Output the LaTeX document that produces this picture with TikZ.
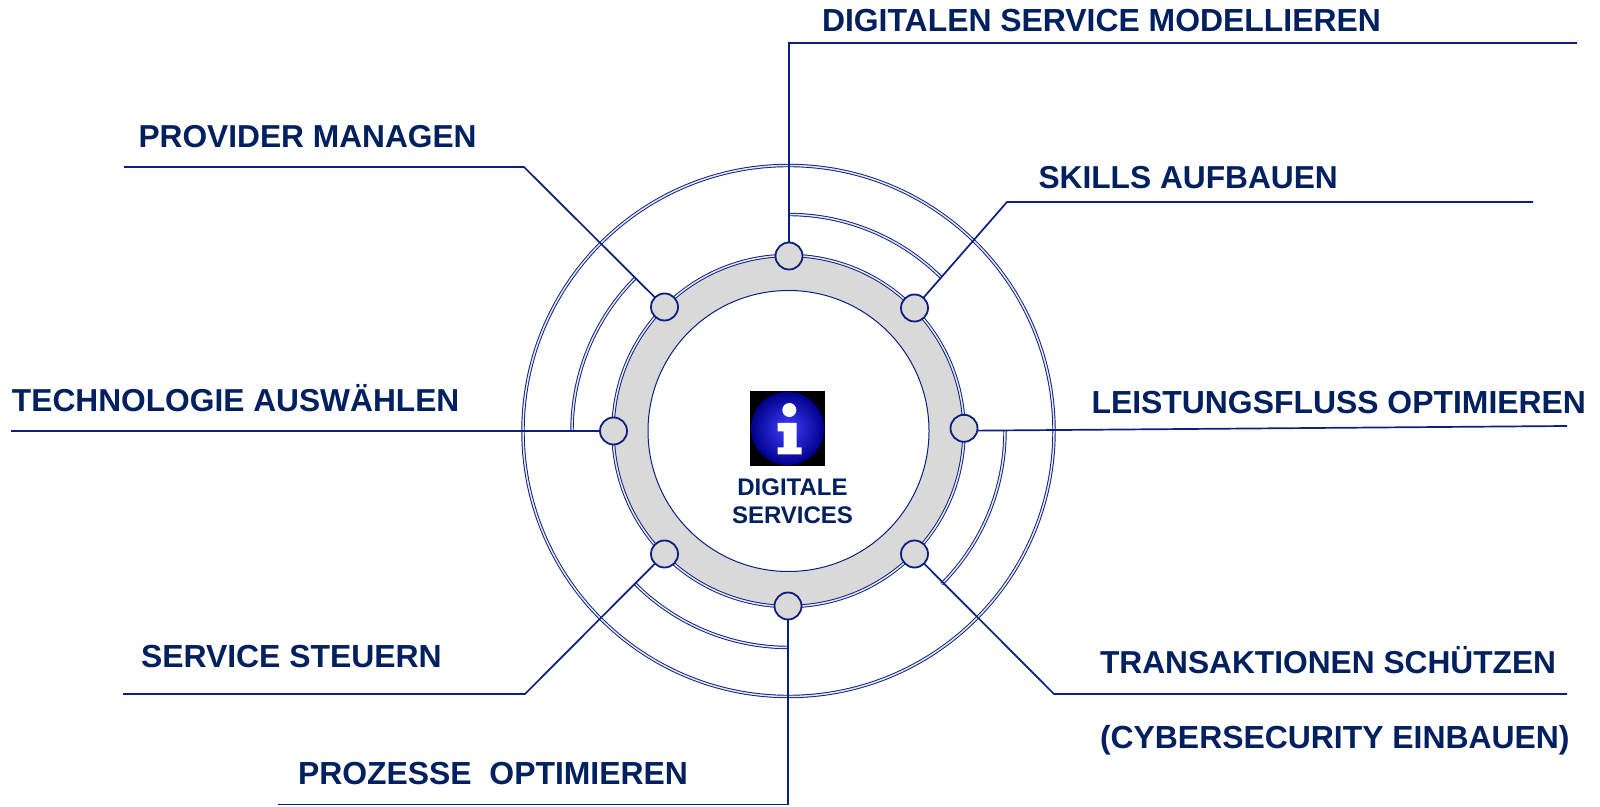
\documentclass[tikz,border=0pt]{standalone}
\usepackage{fontspec}
\setmainfont{Liberation Sans}
\definecolor{navy}{HTML}{002060}
\definecolor{linec}{HTML}{0B1F80}
\definecolor{ringc}{HTML}{D9D9D9}
\definecolor{dblc}{HTML}{E4E6F0}
\tikzset{
  lab/.style={anchor=base west,inner sep=0pt,outer sep=0pt,text=navy,font=\fontsize{31.7}{31.7}\selectfont\bfseries},
  labw/.style={lab,font=\fontsize{31.9}{31.9}\selectfont\bfseries},
  conn/.style={draw=linec,line width=1.7pt,line join=miter},
  dbl/.style={draw=linec,line width=0.95pt,double=dblc,double distance=1.5pt},
  dot/.style={circle,draw=linec,line width=1.8pt,fill=ringc,minimum size=27pt,inner sep=0pt,outer sep=0pt},
  ctext/.style={anchor=base,inner sep=0pt,outer sep=0pt,text=navy,font=\fontsize{24}{24}\selectfont\bfseries}
}
\begin{document}
\begin{tikzpicture}[x=1pt,y=1pt]
\useasboundingbox (0,0) rectangle (1600,806);
\fill[white] (0,0) rectangle (1600,806);
\coordinate (c) at (788.5,375);
% rings
\draw[dbl] (c) circle[radius=265.5];
\fill[ringc,even odd rule] (c) circle[radius=175] (c) circle[radius=140.5];
\draw[dbl] (c) circle[radius=175.5];
\draw[draw=linec,line width=1pt] (c) circle[radius=140.5];
% quarter arcs
\draw[dbl] (788.5,591.5) arc[start angle=90,end angle=45,radius=216.5];
\draw[dbl] (572,375) arc[start angle=180,end angle=135,radius=216.5];
\draw[dbl] (1005,375) arc[start angle=0,end angle=-45,radius=216.5];
\draw[dbl] (788.5,158.5) arc[start angle=270,end angle=225,radius=216.5];
% dots
\node[dot] (nT)  at (789,550) {};
\node[dot] (nTR) at (914.5,498) {};
\node[dot] (nR)  at (964,377.7) {};
\node[dot] (nBR) at (914.5,252) {};
\node[dot] (nB)  at (788,200) {};
\node[dot] (nBL) at (664.5,252) {};
\node[dot] (nL)  at (613.5,375) {};
\node[dot] (nTL) at (664.5,499) {};
% connector waypoints
\coordinate (kT) at (789,763);   \coordinate (eT) at (1577,763);
\coordinate (kTR) at (1007,604); \coordinate (eTR) at (1533,604);
\coordinate (eR) at (1567,380);
\coordinate (kBR) at (1054,112); \coordinate (eBR) at (1567,112);
\coordinate (kB) at (788,1.5);   \coordinate (eB) at (278,1.5);
\coordinate (kBL) at (525,112);  \coordinate (eBL) at (123,112);
\coordinate (eL) at (11,375);
\coordinate (kTL) at (524,639);  \coordinate (eTL) at (124,639);
\draw[conn] (nT) -- (kT) -- (eT);
\draw[conn] (nTR) -- (kTR) -- (eTR);
\draw[conn] (nR.-10) -- (eR);
\draw[conn] (nBR) -- (kBR) -- (eBR);
\draw[conn] (nB) -- (kB) -- (eB);
\draw[conn] (nBL) -- (kBL) -- (eBL);
\draw[conn] (nL) -- (eL);
\draw[conn] (nTL) -- (kTL) -- (eTL);
% labels
\node[labw] (tT) at (822,774.5) {DIGITALEN SERVICE MODELLIEREN};
\node[lab] (tTR) at (1038.5,617.5) {SKILLS AUFBAUEN};
\node[labw] (tR) at (1091.5,392) {LEISTUNGSFLUSS OPTIMIEREN};
\node[lab] (tBR) at (1100,133) {TRANSAKTIONEN\ SCHÜTZEN};
\node[labw] (tBR2) at (1100,57.5) {(CYBERSECURITY EINBAUEN)};
\node[labw] (tB) at (298,22) {PROZESSE\ \ OPTIMIEREN};
\node[labw] (tBL) at (141,139) {SERVICE STEUERN};
\node[lab] (tL) at (12,394) {TECHNOLOGIE AUSWÄHLEN};
\node[lab] (tTL) at (138.5,658) {PROVIDER MANAGEN};
% icon
\fill[black] (750,340) rectangle (825,415);
\shade[inner color=blue!75!white,outer color=blue!55!black] (787.5,377.5) circle[radius=36.5];
\fill[white] (789.3,396) circle[radius=7];
\fill[white] (777.5,383) -- (796.5,383) -- (796.5,358.5) -- (801.5,358.5) -- (801.5,351.5) -- (777.5,351.5) -- (777.5,358.5) -- (783.5,358.5) -- (783.5,374.5) -- (777.5,374.5) -- cycle;
\node[ctext] (tC1) at (792.5,310) {DIGITALE};
\node[ctext] (tC2) at (792.5,282.5) {SERVICES};
\end{tikzpicture}
\end{document}
